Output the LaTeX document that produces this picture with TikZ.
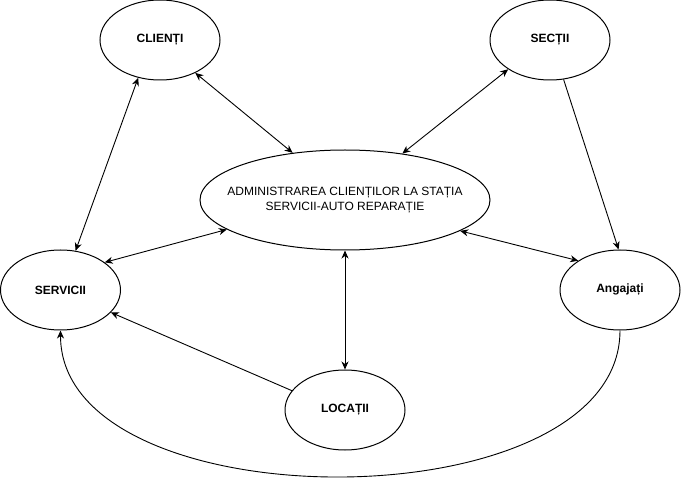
\documentclass[tikz,border=0pt]{standalone}
\usepackage{fontspec}
\setmainfont{Liberation Sans}
\usetikzlibrary{shapes.geometric,arrows.meta}
\begin{document}
\begin{tikzpicture}[x=1pt,y=-1pt,
  ent/.style={ellipse,draw,line width=1pt,minimum width=120pt,minimum height=80pt,inner sep=0pt,
    font=\fontsize{12}{14}\selectfont\bfseries},
  main/.style={ellipse,draw,line width=1pt,minimum width=290pt,minimum height=100pt,inner sep=0pt,
    font=\fontsize{12}{14.5}\selectfont},
  conn/.style={line width=0.9pt,-{Stealth[length=8pt,width=7pt,inset=2.5pt]}},
  biconn/.style={line width=0.9pt,{Stealth[length=8pt,width=7pt,inset=2.5pt]}-{Stealth[length=8pt,width=7pt,inset=2.5pt]}}]
\useasboundingbox (0,0) rectangle (681,481);
\node[ent] (cl) at (160,40) {CLIENȚI};
\node[ent] (se) at (550,40) {SECȚII};
\node[main] (c) at (345,200) {\makebox[0pt]{\begin{tabular}{@{}c@{}}ADMINISTRAREA CLIENȚILOR LA STAȚIA\\SERVICII-AUTO REPARAȚIE\end{tabular}}};
\node[ent] (sv) at (60.5,290) {SERVICII};
\node[ent] (an) at (620,290) {Angajați};
\node[ent] (lo) at (345,410) {LOCAȚII};
\draw[biconn] (cl.240) -- (sv.69);
\draw[biconn] (cl.317) -- (c.138);
\draw[biconn] (se.215) -- (c.39);
\draw[conn] (se.289) -- (an.92);
\draw[biconn] (c.345.6) -- (an.145);
\draw[biconn] (c.194.3) -- (sv.32.5);
\draw[biconn] (c.south) -- (lo.north);
\draw[conn] (lo.160) -- (sv.336);
\draw[conn] (an.south) .. controls (620,525) and (60.5,525) .. (sv.south);
\end{tikzpicture}
\end{document}
